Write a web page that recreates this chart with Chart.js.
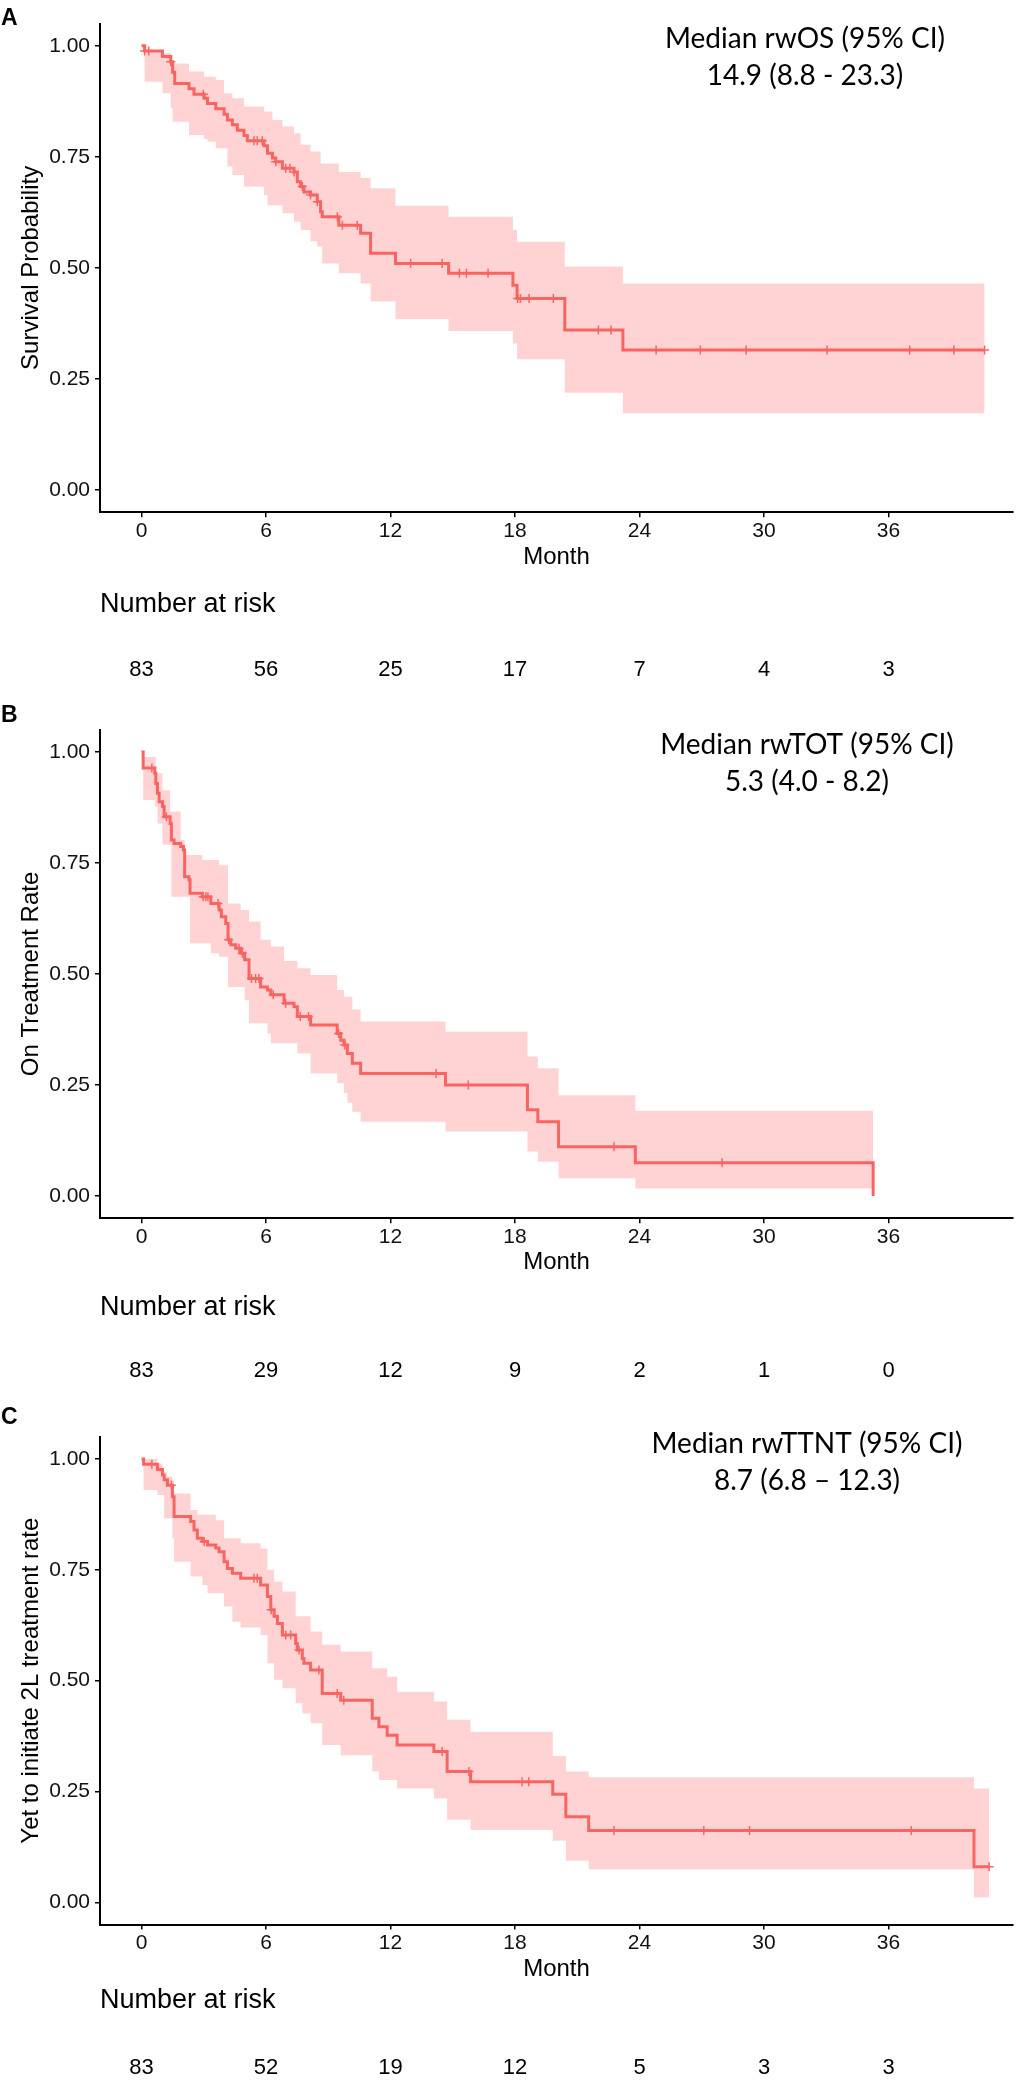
<!DOCTYPE html>
<html>
<head>
<meta charset="utf-8">
<script src="https://cdn.jsdelivr.net/npm/chart.js@4.4.1/dist/chart.umd.min.js"></script>
<style>
  html, body { margin: 0; padding: 0; background: #fff; }
  body { width: 1016px; height: 2082px; position: relative; overflow: hidden; }
  canvas { position: absolute; left: 0; }
</style>
</head>
<body>
<canvas id="cA" width="1016" height="700" style="top:0px;width:1016px;height:700px"></canvas>
<canvas id="cB" width="1016" height="700" style="top:700px;width:1016px;height:700px"></canvas>
<canvas id="cC" width="1016" height="682" style="top:1400px;width:1016px;height:682px"></canvas>
<script>
// ---------- shared axis data ----------
const X_TICKS = [0, 6, 12, 18, 24, 30, 36];
const Y_TICKS = [0, 0.25, 0.5, 0.75, 1];
const RISK_TIMES = [0, 6, 12, 18, 24, 30, 36];

// ---------- Panel A : rwOS ----------
const A_time = [0, 0.15, 1.01, 1.41, 1.50, 1.60, 2.29, 2.53, 3.02, 3.18,
  3.58, 3.98, 4.14, 4.38, 4.62, 4.94, 5.10, 5.90, 6.07, 6.31,
  6.47, 6.79, 7.35, 7.51, 7.67, 7.83, 8.15, 8.47, 8.63, 8.71,
  9.51, 10.56, 11.04, 12.24, 14.80, 17.90, 18.10, 20.40, 23.20, 40.63];
const A_surv = [1.000, 0.988, 0.976, 0.964, 0.940, 0.915, 0.903, 0.891, 0.882, 0.870,
  0.858, 0.846, 0.833, 0.822, 0.810, 0.798, 0.786, 0.775, 0.758, 0.747,
  0.739, 0.724, 0.716, 0.694, 0.683, 0.671, 0.664, 0.649, 0.626, 0.615,
  0.596, 0.578, 0.533, 0.510, 0.488, 0.461, 0.431, 0.360, 0.315, 0.315];
const A_upper = [1.000, 0.990, 0.983, 0.960, 0.960, 0.960, 0.942, 0.942, 0.930, 0.930,
  0.923, 0.893, 0.893, 0.882, 0.882, 0.863, 0.863, 0.852, 0.852, 0.833,
  0.833, 0.818, 0.803, 0.803, 0.777, 0.777, 0.762, 0.762, 0.735, 0.735,
  0.716, 0.702, 0.679, 0.640, 0.615, 0.585, 0.559, 0.503, 0.465, 0.465];
const A_lower = [1.000, 0.919, 0.893, 0.860, 0.829, 0.829, 0.799, 0.799, 0.790, 0.784,
  0.769, 0.769, 0.728, 0.709, 0.709, 0.683, 0.683, 0.664, 0.641, 0.641,
  0.641, 0.623, 0.604, 0.604, 0.585, 0.585, 0.560, 0.548, 0.548, 0.510,
  0.488, 0.465, 0.424, 0.385, 0.358, 0.330, 0.294, 0.219, 0.173, 0.173];
const A_censor = [0.15, 0.35, 1.41, 2.98, 5.42, 5.58, 5.82, 6.47, 6.95, 7.15, 7.35, 7.75,
  8.15, 8.47, 9.44, 9.68, 10.4, 12.97, 14.49, 15.32, 15.66, 16.7, 18.13, 18.26, 18.68,
  19.85, 22.02, 22.63, 24.8, 26.93, 29.14, 33.04, 37.02, 39.15, 40.63];
const A_risk = [83, 56, 25, 17, 7, 4, 3];

// ---------- Panel B : rwTOT ----------
const B_time = [0, 0.08, 0.64, 0.69, 0.77, 0.85, 1.01, 1.09, 1.38, 1.44,
  1.57, 1.89, 2.02, 2.08, 2.29, 2.34, 2.93, 3.34, 3.74, 3.85,
  4.06, 4.17, 4.30, 4.54, 4.78, 4.97, 5.18, 5.74, 6.07, 6.23,
  6.87, 7.35, 7.51, 8.15, 9.43, 9.60, 9.76, 9.92, 10.16, 10.56,
  14.65, 18.60, 19.10, 20.10, 23.80, 35.26];
const B_surv = [1.000, 0.964, 0.952, 0.929, 0.907, 0.888, 0.877, 0.854, 0.839, 0.802,
  0.794, 0.787, 0.779, 0.719, 0.712, 0.682, 0.674, 0.659, 0.644, 0.629,
  0.614, 0.577, 0.566, 0.558, 0.547, 0.532, 0.490, 0.471, 0.464, 0.453,
  0.434, 0.426, 0.404, 0.385, 0.366, 0.351, 0.340, 0.321, 0.299, 0.276,
  0.250, 0.194, 0.167, 0.111, 0.075, 0.000];
const B_upper = [1.000, 0.989, 0.989, 0.952, 0.952, 0.952, 0.914, 0.914, 0.866, 0.866,
  0.866, 0.802, 0.802, 0.768, 0.768, 0.768, 0.757, 0.757, 0.745, 0.745,
  0.745, 0.659, 0.659, 0.659, 0.644, 0.644, 0.618, 0.577, 0.577, 0.562,
  0.529, 0.529, 0.513, 0.498, 0.464, 0.464, 0.449, 0.449, 0.420, 0.393,
  0.370, 0.314, 0.288, 0.227, 0.192, 0.192];
const B_lower = [1.000, 0.892, 0.877, 0.877, 0.839, 0.839, 0.791, 0.791, 0.791, 0.674,
  0.674, 0.674, 0.674, 0.674, 0.674, 0.569, 0.569, 0.547, 0.539, 0.539,
  0.539, 0.471, 0.471, 0.471, 0.471, 0.441, 0.389, 0.389, 0.366, 0.344,
  0.344, 0.344, 0.321, 0.276, 0.254, 0.254, 0.232, 0.210, 0.190, 0.167,
  0.145, 0.100, 0.077, 0.040, 0.017, 0.017];
const B_censor = [0.5, 1.2, 2.97, 3.1, 3.2, 3.69, 4.2, 4.7, 4.86, 5.3, 5.5, 5.66, 6.35,
  6.95, 7.65, 8.05, 9.5, 9.8, 14.2, 15.75, 22.77, 27.98];
const B_risk = [83, 29, 12, 9, 2, 1, 0];

// ---------- Panel C : rwTTNT ----------
const C_time = [0, 0.10, 0.77, 1.01, 1.09, 1.25, 1.49, 1.57, 2.37, 2.53,
  2.69, 2.93, 3.18, 3.58, 3.74, 3.98, 4.14, 4.38, 4.78, 5.74,
  6.07, 6.23, 6.39, 6.55, 6.79, 7.43, 7.51, 7.75, 7.83, 8.15,
  8.71, 9.60, 11.12, 11.44, 11.84, 12.32, 14.09, 14.73, 15.86, 19.82,
  20.45, 21.55, 40.12, 40.85];
const C_surv = [1.000, 0.988, 0.976, 0.964, 0.953, 0.941, 0.915, 0.870, 0.859, 0.840,
  0.821, 0.814, 0.806, 0.799, 0.791, 0.768, 0.753, 0.742, 0.731, 0.716,
  0.690, 0.660, 0.645, 0.629, 0.603, 0.584, 0.569, 0.550, 0.539, 0.524,
  0.471, 0.456, 0.415, 0.396, 0.377, 0.355, 0.340, 0.295, 0.272, 0.244,
  0.193, 0.162, 0.080, 0.080];
const C_upper = [1.000, 1.000, 0.990, 0.975, 0.970, 0.960, 0.953, 0.922, 0.885, 0.885,
  0.874, 0.874, 0.874, 0.862, 0.862, 0.821, 0.821, 0.821, 0.810, 0.798,
  0.750, 0.750, 0.723, 0.723, 0.701, 0.645, 0.645, 0.645, 0.645, 0.611,
  0.581, 0.566, 0.528, 0.528, 0.509, 0.475, 0.453, 0.412, 0.385, 0.330,
  0.295, 0.282, 0.257, 0.257];
const C_lower = [1.000, 0.930, 0.919, 0.919, 0.866, 0.866, 0.821, 0.768, 0.735, 0.735,
  0.735, 0.716, 0.697, 0.697, 0.697, 0.667, 0.667, 0.633, 0.620, 0.603,
  0.539, 0.539, 0.502, 0.502, 0.483, 0.449, 0.449, 0.426, 0.426, 0.404,
  0.355, 0.332, 0.295, 0.276, 0.276, 0.257, 0.234, 0.186, 0.163, 0.139,
  0.094, 0.074, 0.011, 0.011];
const C_censor = [0.5, 1.44, 3.02, 5.42, 5.58, 6.25, 6.95, 7.19, 7.59, 8.55, 9.43, 9.75,
  14.49, 15.78, 18.34, 18.66, 22.77, 27.1, 29.3, 37.1, 40.85];
const C_risk = [83, 52, 19, 12, 5, 3, 3];

// ---------- styling ----------
const LINE = '#F96461';
const BAND = 'rgb(255,211,211)';
const SANS = "'Liberation Sans', Arial, Helvetica, sans-serif";

// step-function lookup of the curve value at a censoring time
function stepValue(times, vals, t) {
  let v = vals[0];
  for (let i = 0; i < times.length; i++) { if (times[i] <= t + 1e-9) v = vals[i]; else break; }
  return v;
}

const textPlugin = {
  id: 'panelText',
  afterDraw(chart, args, o) {
    const ctx = chart.ctx;
    ctx.save();
    ctx.fillStyle = '#000';
    // panel letter
    ctx.font = 'bold 23px ' + SANS;
    ctx.textAlign = 'left';
    ctx.textBaseline = 'alphabetic';
    ctx.fillText(o.letter, 1, o.letterY);
    // median annotation
    ctx.font = '28px Lato, "Open Sans", sans-serif';
    ctx.textAlign = 'center';
    ctx.fillText(o.median[0], o.medianX, o.medianY[0]);
    ctx.fillText(o.median[1], o.medianX, o.medianY[1]);
    // number at risk table
    ctx.textBaseline = 'middle';
    ctx.textAlign = 'left';
    ctx.font = '27px ' + SANS;
    ctx.fillText('Number at risk', chart.chartArea.left, o.riskTitleY);
    ctx.font = '22px ' + SANS;
    ctx.textAlign = 'center';
    const xs = chart.scales.x;
    RISK_TIMES.forEach((t, i) => ctx.fillText(String(o.risk[i]), xs.getPixelForValue(t), o.riskY));
    ctx.restore();
  }
};

Chart.defaults.font.family = SANS;

function buildPanel(id, d, L) {
  const pts = (ys) => d.time.map((t, i) => ({ x: t, y: ys[i] }));
  const cens = d.censor.map(t => ({ x: t, y: stepValue(d.time, d.surv, t) }));
  const axisCommon = {
    grid: { drawOnChartArea: false, drawTicks: true, tickLength: 5, color: '#000', lineWidth: 1.5 },
    border: { display: true, color: '#000', width: 2 }
  };
  new Chart(document.getElementById(id), {
    type: 'line',
    data: {
      datasets: [
        { data: pts(d.lower), stepped: true, borderWidth: 0, borderColor: 'rgba(0,0,0,0)', pointRadius: 0, fill: false, order: 3 },
        { data: pts(d.upper), stepped: true, borderWidth: 0, borderColor: 'rgba(0,0,0,0)', pointRadius: 0, fill: 0, backgroundColor: BAND, order: 2 },
        { data: pts(d.surv), stepped: true, borderColor: LINE, borderWidth: 3, pointRadius: 0, fill: false, order: 1 },
        { data: cens, showLine: false, pointStyle: 'cross', pointRadius: 4.5, pointBorderColor: LINE,
          pointBorderWidth: 1.5, borderColor: LINE, backgroundColor: LINE, fill: false, order: 0 }
      ]
    },
    options: {
      responsive: false,
      animation: false,
      events: [],
      layout: { autoPadding: false, padding: { top: L.areaTop, right: 3, bottom: L.height - L.monthY - 14.4, left: 0 } },
      plugins: {
        legend: { display: false },
        tooltip: { enabled: false },
        panelText: L.text
      },
      scales: {
        x: Object.assign({
          type: 'linear', min: -2, max: 42,
          afterBuildTicks: s => { s.ticks = X_TICKS.map(v => ({ value: v })); },
          afterFit: s => { s.height = L.monthY + 14.4 - L.areaBottom; },
          ticks: { font: { size: 21 }, color: '#111', padding: 1, maxRotation: 0, autoSkip: false, callback: v => String(v) },
          title: { display: true, text: 'Month', font: { size: 24 }, color: '#000', padding: { top: 0, bottom: 0 } }
        }, axisCommon),
        y: Object.assign({
          type: 'linear', min: -0.05, max: 1.05,
          afterBuildTicks: s => { s.ticks = Y_TICKS.map(v => ({ value: v })); },
          afterFit: s => { s.width = 100; },
          ticks: { font: { size: 21 }, color: '#111', padding: 5, callback: v => Number(v).toFixed(2) },
          title: { display: true, text: d.ylabel, font: { size: 24 }, color: '#000', padding: { top: 17, bottom: 0 } }
        }, axisCommon)
      }
    },
    plugins: [textPlugin]
  });
}

function init() {
  buildPanel('cA',
    { time: A_time, surv: A_surv, upper: A_upper, lower: A_lower, censor: A_censor, ylabel: 'Survival Probability' },
    { height: 700, areaTop: 23.5, areaBottom: 512.2, monthY: 557,
      text: { letter: 'A', letterY: 25, median: ['Median rwOS (95% CI)', '14.9 (8.8 - 23.3)'], medianX: 805, medianY: [48, 85],
              riskTitleY: 605, riskY: 669.5, risk: A_risk } });
  buildPanel('cB',
    { time: B_time, surv: B_surv, upper: B_upper, lower: B_lower, censor: B_censor, ylabel: 'On Treatment Rate' },
    { height: 700, areaTop: 29.8, areaBottom: 518.2, monthY: 562.7,
      text: { letter: 'B', letterY: 22, median: ['Median rwTOT (95% CI)', '5.3 (4.0 - 8.2)'], medianX: 807, medianY: [54, 91],
              riskTitleY: 608, riskY: 670.5, risk: B_risk } });
  buildPanel('cC',
    { time: C_time, surv: C_surv, upper: C_upper, lower: C_lower, censor: C_censor, ylabel: 'Yet to initiate 2L treatment rate' },
    { height: 682, areaTop: 36.8, areaBottom: 524.5, monthY: 569,
      text: { letter: 'C', letterY: 23.5, median: ['Median rwTTNT (95% CI)', '8.7 (6.8 \u2013 12.3)'], medianX: 807, medianY: [53.3, 90],
              riskTitleY: 601, riskY: 667.5, risk: C_risk } });
}

if (document.fonts && document.fonts.load) {
  Promise.all([
    document.fonts.load('28px Lato'),
    document.fonts.load('24px "Liberation Sans"'),
    document.fonts.load('bold 23px "Liberation Sans"')
  ]).then(init, init);
} else {
  init();
}
</script>
</body>
</html>
